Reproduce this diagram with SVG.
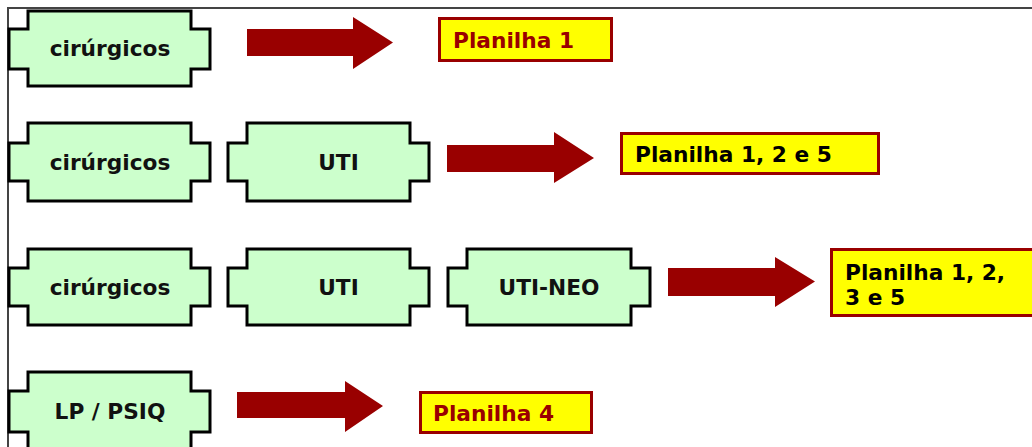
<svg xmlns="http://www.w3.org/2000/svg" width="1032" height="447" viewBox="0 0 1032 447">
<style>
.node{fill:#ccffcc;stroke:#000;stroke-width:3;stroke-linejoin:miter}
.nt{font-family:"DejaVu Sans",Verdana,sans-serif;font-weight:bold;font-size:21.7px;fill:#111;text-anchor:middle}
.box{fill:#ffff00;stroke:#990000;stroke-width:3}
.bt{font-family:"DejaVu Sans",Verdana,sans-serif;font-weight:bold;font-size:21.7px}
.red{fill:#990000}
.blk{fill:#000}
.arrow{fill:#990000}
</style>
<rect width="1032" height="447" fill="#fff"/>
<path d="M8 447 V8 H1032" fill="none" stroke="#444" stroke-width="2"/>
<g id="connectors">
<polygon class="arrow" points="247,29 353,29 353,17 393,42.5 353,69 353,56 247,56"/>
<polygon class="arrow" points="447,145 554,145 554,132 594,158 554,183 554,172 447,172"/>
<polygon class="arrow" points="668,268 775,268 775,257 815,281.5 775,307 775,296 668,296"/>
<polygon class="arrow" points="237,392 345,392 345,381 383,406 345,432 345,418 237,418"/>
</g>
<g id="n1-cirurgicos">
<polygon class="node" points="28,11 191,11 191,29 210,29 210,69 191,69 191,86 28,86 28,69 9,69 9,29 28,29"/>
<text class="nt" x="110" y="56">cirúrgicos</text>
</g>
<g id="p1">
<rect class="box" x="439.5" y="18.5" width="172" height="42"/>
<text class="bt red" x="453" y="48">Planilha 1</text>
</g>
<g id="n2-cirurgicos">
<polygon class="node" points="28,123 191,123 191,143 210,143 210,181 191,181 191,201 28,201 28,181 9,181 9,143 28,143"/>
<text class="nt" x="110" y="169.5">cirúrgicos</text>
</g>
<g id="n2-uti">
<polygon class="node" points="247,123 410,123 410,143 429,143 429,181 410,181 410,201 247,201 247,181 228,181 228,143 247,143"/>
<text class="nt" x="338.5" y="169.5">UTI</text>
</g>
<g id="p2">
<rect class="box" x="621.5" y="133.5" width="257" height="40"/>
<text class="bt blk" x="635" y="162">Planilha 1, 2 e 5</text>
</g>
<g id="n3-cirurgicos">
<polygon class="node" points="28,249 191,249 191,268 210,268 210,306 191,306 191,325 28,325 28,306 9,306 9,268 28,268"/>
<text class="nt" x="110" y="294.5">cirúrgicos</text>
</g>
<g id="n3-uti">
<polygon class="node" points="247,249 410,249 410,268 429,268 429,306 410,306 410,325 247,325 247,306 228,306 228,268 247,268"/>
<text class="nt" x="338.5" y="294.5">UTI</text>
</g>
<g id="n3-utineo">
<polygon class="node" points="467,249 631,249 631,268 650,268 650,306 631,306 631,325 467,325 467,306 448,306 448,268 467,268"/>
<text class="nt" x="549" y="294.5">UTI-NEO</text>
</g>
<g id="p3">
<rect class="box" x="831.5" y="249.5" width="210" height="66"/>
<text class="bt blk" x="845" y="280">Planilha 1, 2,</text>
<text class="bt blk" x="845" y="305">3 e 5</text>
</g>
<g id="n4-lppsiq">
<polygon class="node" points="28,372 191,372 191,391 210,391 210,432 191,432 191,452 28,452 28,432 9,432 9,391 28,391"/>
<text class="nt" x="110" y="419">LP / PSIQ</text>
</g>
<g id="p4">
<rect class="box" x="420.5" y="392.5" width="171" height="40"/>
<text class="bt red" x="433" y="421">Planilha 4</text>
</g>
</svg>
